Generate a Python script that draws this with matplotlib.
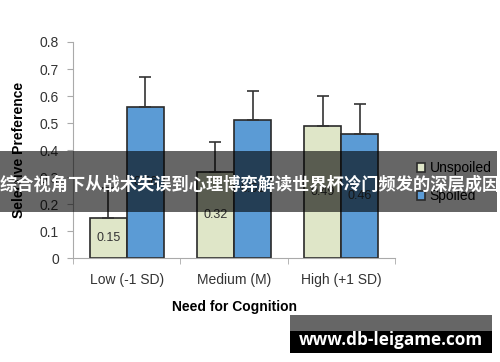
import matplotlib
matplotlib.use("Agg")
import matplotlib.pyplot as plt
import numpy as np
from matplotlib.patches import Rectangle

# data
groups = ["Low (-1 SD)", "Medium (M)", "High (+1 SD)"]
unspoiled = [0.15, 0.32, 0.49]
spoiled = [0.56, 0.51, 0.46]
unspoiled_err = [0.11, 0.11, 0.11]
spoiled_err = [0.11, 0.11, 0.11]
series_names = ["Unspoiled", "Spoiled"]
yticks = [0, 0.1, 0.2, 0.3, 0.4, 0.5, 0.6, 0.7, 0.8]
banner_text = "综合视角下从战术失误到心理博弈解读世界杯冷门频发的深层成因"
watermark = "www.db-leigame.com"

plt.rcParams['font.family'] = ['Liberation Sans', 'DejaVu Sans']

fig = plt.figure(figsize=(5, 3.62), dpi=100)
ax = fig.add_axes([0.146, 0.287, 0.644, 0.597])

x = np.arange(len(groups))
w = 0.345
c_un = "#dfe6c8"
c_sp = "#5b9bd5"
b1 = ax.bar(x - w / 2, unspoiled, w, color=c_un, edgecolor="#2a2a2a", linewidth=1.2,
            yerr=[np.zeros(3), unspoiled_err], ecolor="#333333",
            error_kw=dict(capsize=4, elinewidth=1.2, capthick=1.2), label=series_names[0], zorder=2)
b2 = ax.bar(x + w / 2, spoiled, w, color=c_sp, edgecolor="#2a2a2a", linewidth=1.2,
            yerr=[np.zeros(3), spoiled_err], ecolor="#333333",
            error_kw=dict(capsize=4, elinewidth=1.2, capthick=1.2), label=series_names[1], zorder=2)

# value labels in middle of each bar
for bars, vals in [(b1, unspoiled), (b2, spoiled)]:
    for b, v in zip(bars, vals):
        ax.text(b.get_x() + b.get_width() / 2, v / 2, "%.2f" % v, ha="center", va="center",
                fontsize=9, color="#333333", zorder=3)

ax.set_xlim(-0.5, 2.5)
ax.set_ylim(0, 0.8)
ax.set_yticks(yticks)
ax.set_yticklabels(["0" if t == 0 else "%.1f" % t for t in yticks])
ax.set_xticks(x)
ax.set_xticklabels(groups)
ax.set_xticks([-0.5, 0.5, 1.5, 2.5], minor=True)
ax.tick_params(axis="x", which="major", length=0, pad=11, labelsize=10, labelcolor="#333333")
ax.tick_params(axis="x", which="minor", length=4, color="#aaaaaa", direction="out")
ax.tick_params(axis="y", length=4, color="#aaaaaa", labelsize=10, labelcolor="#333333", pad=6)
for s in ["top", "right"]:
    ax.spines[s].set_visible(False)
for s in ["left", "bottom"]:
    ax.spines[s].set_color("#aaaaaa")
ax.set_xlabel("Need for Cognition", fontsize=10, fontweight="bold", labelpad=9)
ax.set_ylabel("Selective Preference", fontsize=10, fontweight="bold", labelpad=10)

fig.legend(handles=[b1, b2], labels=series_names, loc="center left",
           bbox_to_anchor=(0.834, 0.497), frameon=False, fontsize=10,
           handlelength=0.6, handleheight=0.6, handletextpad=0.3, labelspacing=1.0,
           borderpad=0, borderaxespad=0)

# overlay banner
fig.patches.append(Rectangle((0, 0.414), 0.994, 0.168, transform=fig.transFigure,
                             facecolor="black", alpha=0.6, edgecolor="none", zorder=5))
fig.text(0.5, 0.49, banner_text, ha="center", va="center", color="white", fontsize=12.4,
         fontweight="bold", family=["Noto Sans CJK SC", "DejaVu Sans"], zorder=6)

# watermark box
fig.patches.append(Rectangle((0.58, 0.0856), 0.404, 0.0444, transform=fig.transFigure,
                             facecolor="#666666", edgecolor="none", zorder=5))
fig.patches.append(Rectangle((0.58, 0.0249), 0.404, 0.0607, transform=fig.transFigure,
                             facecolor="black", edgecolor="none", zorder=5))
fig.text(0.781, 0.061, watermark, ha="center", va="center", color="white", fontsize=12.3,
         fontweight="bold", family=["Open Sans", "DejaVu Sans"], zorder=6)

fig.savefig("out.png", dpi=100)
